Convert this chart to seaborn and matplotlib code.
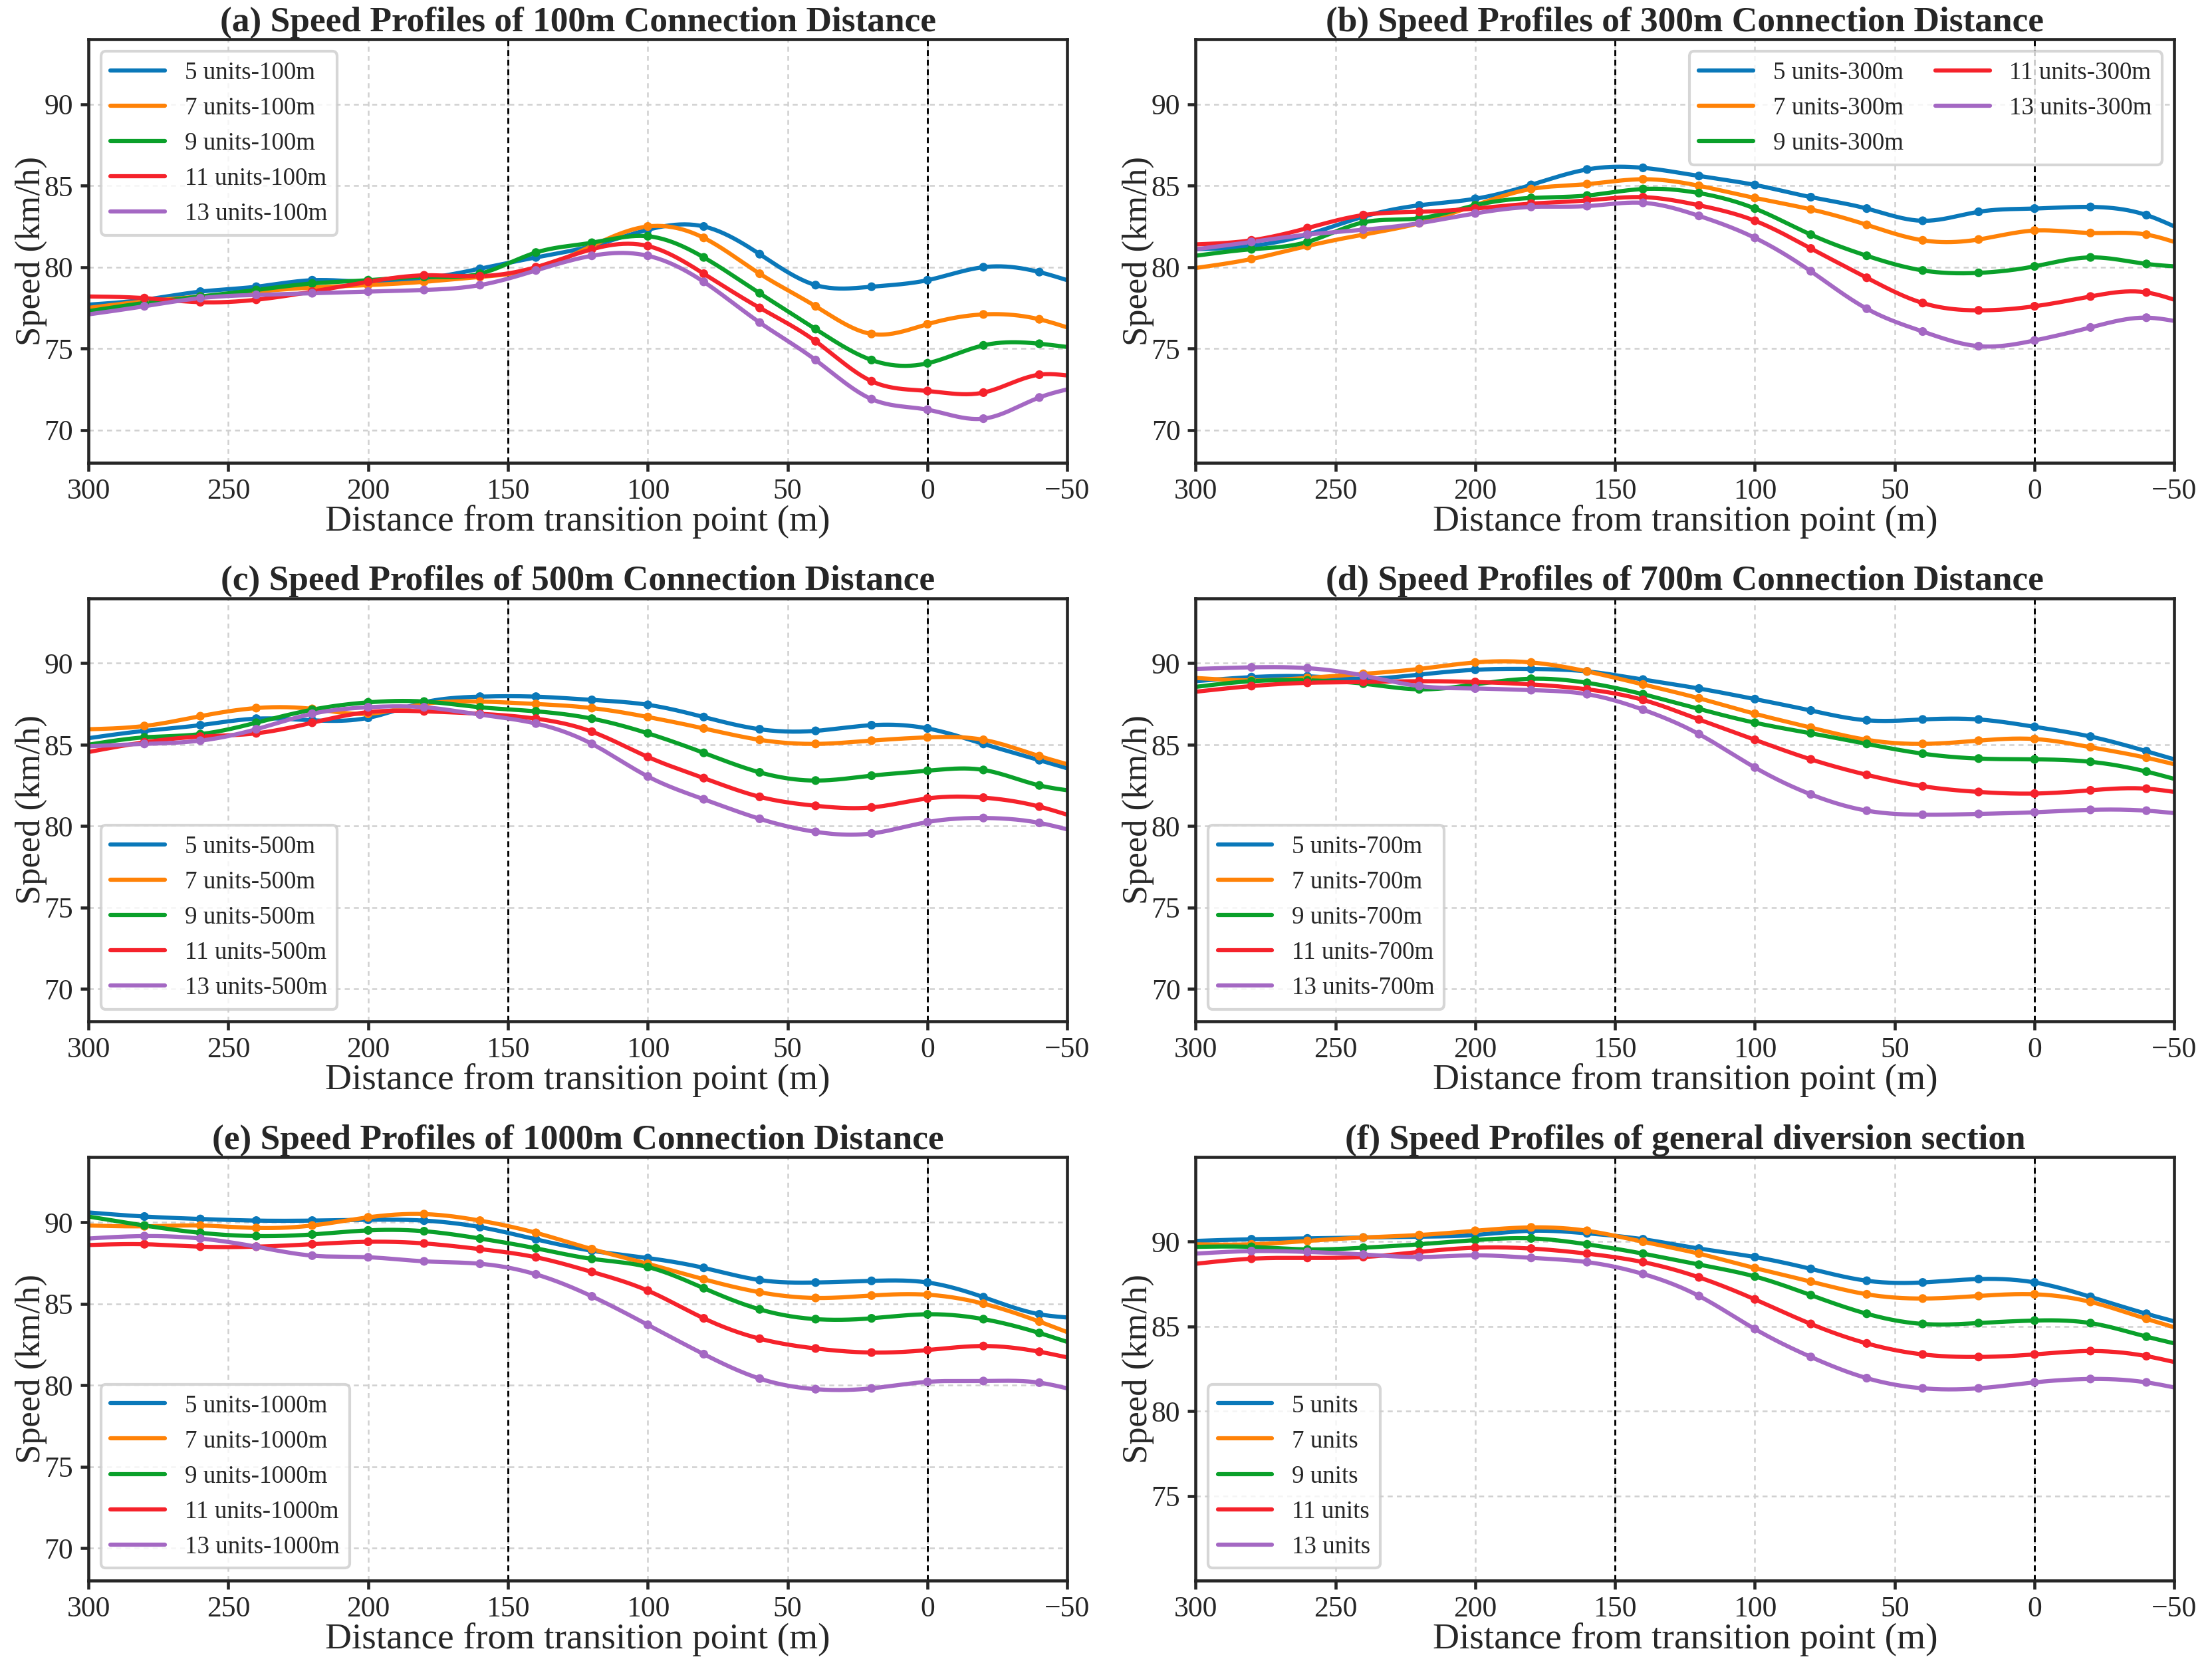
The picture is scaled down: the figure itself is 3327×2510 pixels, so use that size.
import numpy as np
import pandas as pd
import seaborn as sns
import matplotlib.pyplot as plt

# distance from transition point (m); markers on the inner points
dist = [300, 280, 260, 240, 220, 200, 180, 160, 140, 120, 100, 80, 60, 40, 20, 0, -20, -40, -50]
units = [5, 7, 9, 11, 13]
colors = ["#0a78b9", "#ff8207", "#0aa02a", "#f5222b", "#a468c3"]

# (a) 100m
a_5 = [77.7, 78.0, 78.5, 78.8, 79.2, 79.1, 79.3, 79.9, 80.6, 81.3, 82.3, 82.5, 80.8, 78.9, 78.8, 79.2, 80.0, 79.7, 79.2]
a_7 = [77.5, 77.9, 78.2, 78.5, 78.75, 78.9, 79.1, 79.4, 79.9, 81.3, 82.5, 81.8, 79.6, 77.6, 75.9, 76.5, 77.1, 76.8, 76.3]
a_9 = [77.3, 77.8, 78.2, 78.6, 79.0, 79.2, 79.4, 79.6, 80.9, 81.5, 81.9, 80.6, 78.4, 76.2, 74.3, 74.1, 75.2, 75.3, 75.1]
a_11 = [78.2, 78.1, 77.85, 78.0, 78.5, 79.1, 79.5, 79.45, 80.0, 81.1, 81.3, 79.6, 77.5, 75.45, 73.0, 72.4, 72.3, 73.4, 73.35]
a_13 = [77.1, 77.6, 78.1, 78.3, 78.4, 78.5, 78.6, 78.9, 79.8, 80.7, 80.7, 79.1, 76.6, 74.3, 71.9, 71.25, 70.7, 72.0, 72.5]

# (b) 300m
b_5 = [81.1, 81.3, 82.0, 83.1, 83.8, 84.2, 85.05, 86.0, 86.1, 85.6, 85.05, 84.3, 83.6, 82.85, 83.4, 83.6, 83.7, 83.2, 82.5]
b_7 = [79.95, 80.5, 81.3, 82.0, 82.7, 83.8, 84.8, 85.1, 85.4, 85.0, 84.25, 83.55, 82.6, 81.65, 81.7, 82.25, 82.1, 82.0, 81.55]
b_9 = [80.7, 81.1, 81.55, 82.75, 83.0, 83.8, 84.25, 84.4, 84.8, 84.55, 83.6, 82.0, 80.7, 79.8, 79.65, 80.05, 80.6, 80.2, 80.05]
b_11 = [81.4, 81.65, 82.4, 83.2, 83.4, 83.6, 83.9, 84.1, 84.3, 83.8, 82.85, 81.15, 79.35, 77.8, 77.35, 77.6, 78.2, 78.45, 78.0]
b_13 = [81.1, 81.55, 82.0, 82.3, 82.7, 83.3, 83.7, 83.75, 83.95, 83.15, 81.8, 79.75, 77.45, 76.05, 75.15, 75.5, 76.3, 76.9, 76.7]

# (c) 500m
c_5 = [85.4, 85.85, 86.2, 86.6, 86.5, 86.65, 87.6, 87.95, 87.95, 87.75, 87.45, 86.7, 85.95, 85.85, 86.2, 86.0, 85.05, 84.05, 83.55]
c_7 = [85.95, 86.15, 86.75, 87.25, 87.2, 86.9, 87.5, 87.65, 87.5, 87.25, 86.7, 86.0, 85.3, 85.05, 85.25, 85.45, 85.3, 84.3, 83.8]
c_9 = [85.0, 85.45, 85.65, 86.35, 87.15, 87.6, 87.65, 87.3, 87.05, 86.6, 85.7, 84.5, 83.3, 82.8, 83.1, 83.4, 83.45, 82.5, 82.2]
c_11 = [84.55, 85.15, 85.5, 85.7, 86.35, 87.0, 87.05, 86.9, 86.6, 85.8, 84.25, 82.95, 81.8, 81.25, 81.15, 81.7, 81.75, 81.2, 80.7]
c_13 = [84.9, 85.05, 85.25, 85.95, 86.9, 87.3, 87.3, 86.85, 86.3, 85.05, 83.05, 81.65, 80.45, 79.65, 79.55, 80.25, 80.5, 80.2, 79.8]

# (d) 700m
d_5 = [88.9, 89.15, 89.2, 89.05, 89.3, 89.6, 89.65, 89.5, 89.0, 88.45, 87.8, 87.1, 86.5, 86.55, 86.55, 86.1, 85.5, 84.6, 84.1]
d_7 = [89.1, 88.95, 89.1, 89.35, 89.65, 90.05, 90.05, 89.5, 88.7, 87.85, 86.9, 86.05, 85.3, 85.05, 85.25, 85.35, 84.85, 84.2, 83.8]
d_9 = [88.55, 88.9, 88.95, 88.75, 88.4, 88.7, 89.05, 88.8, 88.1, 87.2, 86.35, 85.7, 85.05, 84.45, 84.15, 84.1, 83.95, 83.35, 82.9]
d_11 = [88.25, 88.6, 88.8, 88.85, 88.9, 88.85, 88.7, 88.4, 87.75, 86.55, 85.3, 84.1, 83.15, 82.45, 82.1, 82.0, 82.2, 82.3, 82.1]
d_13 = [89.65, 89.75, 89.7, 89.25, 88.6, 88.45, 88.35, 88.1, 87.15, 85.65, 83.6, 81.95, 80.95, 80.7, 80.75, 80.85, 81.0, 80.95, 80.8]

# (e) 1000m
e_5 = [90.6, 90.35, 90.2, 90.1, 90.1, 90.15, 90.1, 89.7, 88.95, 88.25, 87.8, 87.2, 86.45, 86.3, 86.4, 86.3, 85.4, 84.35, 84.15]
e_7 = [89.8, 89.75, 89.8, 89.65, 89.8, 90.3, 90.5, 90.1, 89.35, 88.35, 87.45, 86.5, 85.7, 85.35, 85.5, 85.55, 85.0, 83.9, 83.25]
e_9 = [90.35, 89.8, 89.35, 89.15, 89.25, 89.5, 89.45, 89.0, 88.4, 87.75, 87.25, 85.95, 84.65, 84.05, 84.1, 84.35, 84.05, 83.2, 82.65]
e_11 = [88.6, 88.65, 88.5, 88.5, 88.65, 88.8, 88.7, 88.35, 87.85, 86.95, 85.8, 84.1, 82.85, 82.25, 82.0, 82.15, 82.4, 82.05, 81.7]
e_13 = [89.0, 89.15, 89.0, 88.5, 87.95, 87.85, 87.6, 87.45, 86.8, 85.45, 83.7, 81.9, 80.4, 79.75, 79.8, 80.2, 80.25, 80.15, 79.8]

# (f) general diversion section
f_5 = [90.05, 90.15, 90.2, 90.25, 90.3, 90.4, 90.65, 90.5, 90.15, 89.6, 89.1, 88.4, 87.7, 87.6, 87.8, 87.6, 86.75, 85.75, 85.3]
f_7 = [89.85, 89.85, 90.05, 90.25, 90.4, 90.65, 90.85, 90.65, 90.0, 89.3, 88.45, 87.65, 86.9, 86.65, 86.8, 86.9, 86.45, 85.45, 84.95]
f_9 = [89.7, 89.7, 89.55, 89.65, 89.85, 90.1, 90.2, 89.85, 89.3, 88.65, 87.95, 86.85, 85.75, 85.15, 85.2, 85.35, 85.2, 84.4, 84.0]
f_11 = [88.7, 89.0, 89.05, 89.1, 89.4, 89.65, 89.6, 89.3, 88.8, 87.9, 86.6, 85.15, 84.0, 83.35, 83.2, 83.35, 83.55, 83.25, 82.9]
f_13 = [89.3, 89.45, 89.4, 89.25, 89.1, 89.2, 89.05, 88.8, 88.1, 86.8, 84.85, 83.2, 81.95, 81.35, 81.35, 81.7, 81.9, 81.7, 81.4]

panels = [
    ("(a) Speed Profiles of 100m Connection Distance", "-100m", [a_5, a_7, a_9, a_11, a_13], "upper left", 1),
    ("(b) Speed Profiles of 300m Connection Distance", "-300m", [b_5, b_7, b_9, b_11, b_13], "upper right", 2),
    ("(c) Speed Profiles of 500m Connection Distance", "-500m", [c_5, c_7, c_9, c_11, c_13], "lower left", 1),
    ("(d) Speed Profiles of 700m Connection Distance", "-700m", [d_5, d_7, d_9, d_11, d_13], "lower left", 1),
    ("(e) Speed Profiles of 1000m Connection Distance", "-1000m", [e_5, e_7, e_9, e_11, e_13], "lower left", 1),
    ("(f) Speed Profiles of general diversion section", "", [f_5, f_7, f_9, f_11, f_13], "lower left", 1),
]


def natural_spline(x, y, n=400):
    # natural cubic spline through the measured points, for the smooth line
    x = np.asarray(x, float)
    y = np.asarray(y, float)
    order = np.argsort(x)
    x, y = x[order], y[order]
    k = len(x)
    h = np.diff(x)
    A = np.zeros((k, k))
    r = np.zeros(k)
    A[0, 0] = A[-1, -1] = 1
    for i in range(1, k - 1):
        A[i, i - 1] = h[i - 1]
        A[i, i] = 2 * (h[i - 1] + h[i])
        A[i, i + 1] = h[i]
        r[i] = 6 * ((y[i + 1] - y[i]) / h[i] - (y[i] - y[i - 1]) / h[i - 1])
    M = np.linalg.solve(A, r)
    xs = np.linspace(x[0], x[-1], n)
    idx = np.clip(np.searchsorted(x, xs) - 1, 0, k - 2)
    x0, x1 = x[idx], x[idx + 1]
    hh = x1 - x0
    t0, t1 = x1 - xs, xs - x0
    ys = (M[idx] * t0**3 + M[idx + 1] * t1**3) / (6 * hh) \
        + (y[idx] / hh - M[idx] * hh / 6) * t0 \
        + (y[idx + 1] / hh - M[idx + 1] * hh / 6) * t1
    return xs, ys


sns.set_style("ticks")
plt.rcParams["font.family"] = ["Liberation Serif", "DejaVu Serif"]
plt.rcParams["axes.linewidth"] = 1.1

fig, axes = plt.subplots(3, 2, figsize=(11.09, 8.367), dpi=300)
fig.subplots_adjust(left=0.040, right=0.983, top=0.9765, bottom=0.053, wspace=0.131, hspace=0.32)

for ax, (title, suffix, series, loc, ncol) in zip(axes.flat, panels):
    curves = []
    points = []
    for u, vals in zip(units, series):
        name = f"{u} units{suffix}"
        xs, ys = natural_spline(dist, vals)
        curves.append(pd.DataFrame({"dist": xs, "speed": ys, "group": name}))
        points.append(pd.DataFrame({"dist": dist[1:-1], "speed": vals[1:-1], "group": name}))
    curves = pd.concat(curves, ignore_index=True)
    points = pd.concat(points, ignore_index=True)
    names = list(curves["group"].unique())
    pal = dict(zip(names, colors))

    sns.lineplot(data=curves, x="dist", y="speed", hue="group", palette=pal,
                 linewidth=1.5, sort=False, estimator=None, ax=ax)
    sns.scatterplot(data=points, x="dist", y="speed", hue="group", palette=pal,
                    s=10, linewidth=0, legend=False, zorder=3, ax=ax)

    ax.axvline(150, color="black", linestyle="--", linewidth=0.7, dashes=(3, 2), zorder=1)
    ax.axvline(0, color="black", linestyle="--", linewidth=0.7, dashes=(3, 2), zorder=1)

    ax.set_xlim(300, -50)
    ax.set_xticks([300, 250, 200, 150, 100, 50, 0, -50])
    if suffix:
        ax.set_ylim(68, 94)
        ax.set_yticks([70, 75, 80, 85, 90])
    else:
        ax.set_ylim(70, 95)
        ax.set_yticks([75, 80, 85, 90])
    ax.grid(True, color="#d0d0d0", linestyle="--", linewidth=0.6, dashes=(3, 2.5))
    ax.set_axisbelow(True)
    ax.tick_params(labelsize=10.5, width=1.1, length=3, pad=2.5)

    ax.set_title(title, fontsize=12.8, fontweight="bold", pad=3)
    ax.set_xlabel("Distance from transition point (m)", fontsize=13.3, labelpad=0)
    ax.set_ylabel("Speed (km/h)", fontsize=12.6, labelpad=-1)

    ax.legend(loc=loc, ncol=ncol, fontsize=8.9, frameon=True, handlelength=2.2,
              columnspacing=1.3)

fig.savefig("out.png", dpi=300)
plt.close(fig)
